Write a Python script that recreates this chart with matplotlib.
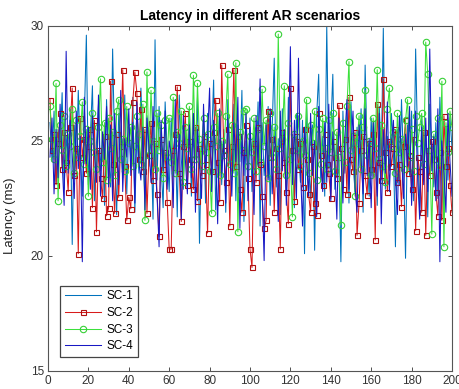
import numpy as np
import matplotlib
matplotlib.use('Agg')
import matplotlib.pyplot as plt

plt.rcParams['font.family'] = ['Liberation Sans', 'DejaVu Sans']

# data (x = 1..200)
x = np.arange(1, 201)

sc1 = [25.8, 24.1, 26.3, 23.2, 25.5, 24.7, 27.1, 22.9, 25.2, 24.0,
       26.4, 20.5, 25.7, 23.8, 27.2, 24.4, 22.6, 26.0, 29.6, 23.1,
       25.3, 27.4, 22.4, 24.9, 26.6, 23.7, 25.1, 22.2, 26.8, 24.3,
       23.0, 29.0, 24.6, 21.8, 26.2, 25.0, 23.4, 27.0, 22.7, 25.6,
       24.2, 26.9, 21.9, 25.4, 23.6, 27.3, 24.8, 22.5, 26.1, 23.9,
       25.2, 21.6, 29.4, 23.3, 26.5, 24.0, 22.1, 26.7, 24.5, 22.8,
       26.0, 23.5, 25.3, 21.7, 27.0, 24.2, 22.9, 25.8, 23.4, 26.4,
       22.6, 25.1, 24.3, 26.9, 20.55, 24.7, 25.9, 22.3, 26.2, 23.8,
       25.0, 27.65, 22.0, 24.6, 26.3, 23.1, 25.5, 21.9, 26.8, 24.2,
       23.3, 26.6, 22.4, 25.7, 24.1, 27.2, 21.5, 25.0, 23.7, 26.0,
       22.8, 25.4, 24.0, 26.7, 21.3, 25.8, 23.5, 24.8, 26.5, 22.2,
       25.6, 28.6, 23.0, 25.1, 21.8, 26.4, 24.2, 22.7, 26.9, 23.6,
       25.3, 22.1, 26.2, 24.5, 23.2, 25.9, 20.1, 26.6, 24.0, 22.5,
       25.7, 20.25, 26.1, 27.9, 23.3, 25.2, 22.6, 30.0, 23.8, 25.5,
       27.9, 22.9, 25.0, 24.2, 19.75, 26.3, 23.6, 25.8, 22.3, 26.7,
       24.1, 22.8, 25.6, 23.9, 26.4, 21.9, 28.3, 24.5, 22.6, 26.0,
       23.4, 25.9, 22.2, 26.5, 24.3, 29.9, 22.9, 25.2, 23.7, 26.2,
       24.6, 20.4, 25.5, 23.1, 26.8, 24.0, 19.9, 25.7, 23.5, 26.3,
       22.4, 29.0, 24.8, 22.0, 26.1, 23.6, 25.4, 21.7, 26.6, 24.2,
       23.0, 25.8, 22.5, 26.9, 24.4, 21.8, 25.6, 23.3, 26.0, 24.7]

sc2 = [26.8, 24.6, 25.3, 23.1, 24.9, 26.2, 23.8, 25.4, 24.1, 22.8,
       25.6, 27.3, 23.5, 24.7, 20.1, 26.0, 24.3, 25.1, 23.6, 24.8,
       25.5, 22.1, 25.9, 21.05, 24.6, 23.4, 22.5, 25.2, 21.75, 22.1,
       27.6, 24.0, 21.85, 25.3, 22.55, 24.8, 28.1, 23.9, 21.55, 22.55,
       22.05, 26.7, 28.0, 27.1, 24.2, 26.4, 23.7, 25.5, 21.85, 24.4,
       25.8, 23.3, 24.9, 22.7, 20.85, 25.1, 23.8, 24.5, 22.35, 20.3,
       20.3, 24.6, 25.3, 27.35, 23.6, 21.5, 24.8, 26.2, 23.1, 25.0,
       24.2, 22.9, 25.6, 22.4, 24.7, 23.5, 25.2, 24.0, 21.0, 24.9,
       23.7, 25.4, 26.8, 24.1, 22.35, 28.3, 24.6, 23.2, 25.5, 21.3,
       24.8, 28.1, 23.9, 25.2, 22.9, 21.9, 24.5, 25.7, 23.4, 20.3,
       19.5, 24.9, 23.2, 25.6, 24.0, 22.6, 21.2, 21.55, 26.3, 24.3,
       25.1, 21.9, 24.7, 23.5, 20.3, 25.4, 24.1, 22.8, 21.4, 27.3,
       24.6, 22.4, 25.2, 23.8, 24.9, 23.0, 25.5, 24.2, 22.7, 21.9,
       24.8, 22.3, 21.8, 26.2, 24.4, 23.1, 25.3, 24.0, 23.6, 22.5,
       25.0, 24.3, 23.4, 26.55, 24.7, 22.9, 25.1, 22.7, 26.9, 24.2,
       23.7, 25.4, 20.9, 22.3, 24.6, 25.2, 23.5, 22.65, 24.9, 23.8,
       25.3, 20.7, 26.6, 24.1, 23.3, 27.7, 24.5, 22.8, 25.0, 23.9,
       24.7, 25.5, 23.2, 24.0, 22.15, 24.8, 25.9, 23.6, 24.4, 22.9,
       25.1, 21.1, 24.3, 23.7, 21.9, 25.4, 20.9, 24.6, 23.5, 25.0,
       24.2, 22.8, 21.75, 24.5, 21.55, 26.1, 23.9, 24.7, 23.1, 21.9]

sc3 = [26.5, 25.1, 24.2, 27.5, 22.4, 25.7, 24.6, 26.1, 23.9, 25.3,
       24.8, 26.4, 23.6, 25.9, 24.3, 25.2, 26.7, 24.0, 25.5, 22.6,
       25.0, 26.2, 24.5, 23.8, 25.6, 27.7, 24.1, 25.8, 23.3, 26.0,
       24.7, 25.4, 23.5, 26.3, 26.8, 24.2, 25.1, 23.7, 26.5, 24.9,
       25.6, 23.9, 24.8, 26.1, 25.3, 24.0, 26.6, 21.55, 28.0, 24.4,
       27.2, 25.0, 23.8, 26.2, 24.6, 25.7, 23.4, 25.9, 24.3, 26.0,
       24.1, 26.9, 23.6, 25.4, 24.9, 26.3, 23.2, 25.6, 24.7, 26.5,
       23.8, 27.85, 24.2, 27.5, 25.1, 23.9, 26.0, 24.5, 25.3, 23.7,
       21.85, 25.6, 24.8, 26.2, 23.5, 25.0, 24.4, 26.1, 27.9, 24.0,
       25.7, 23.6, 28.4, 21.05, 25.4, 24.6, 26.3, 26.4, 23.9, 25.2,
       24.5, 26.0, 23.7, 25.5, 24.1, 27.25, 24.8, 25.9, 23.4, 26.2,
       24.3, 25.6, 23.8, 29.65, 24.7, 25.1, 27.4, 23.5, 25.8, 24.2,
       21.7, 25.3, 24.6, 26.1, 23.9, 25.0, 24.4, 26.8, 23.6, 25.7,
       24.9, 26.3, 23.3, 25.5, 24.0, 26.0, 24.7, 23.8, 25.9, 24.5,
       26.2, 23.7, 25.4, 24.3, 21.35, 25.8, 24.1, 26.5, 28.45, 24.6,
       25.2, 22.6, 24.9, 26.1, 23.8, 25.6, 27.2, 24.4, 25.0, 23.5,
       26.0, 24.7, 28.1, 24.2, 25.7, 23.9, 23.2, 26.4, 27.3, 24.8,
       25.4, 23.6, 26.2, 24.5, 25.1, 23.8, 25.9, 26.8, 24.3, 25.5,
       23.7, 26.1, 24.9, 25.6, 26.2, 24.0, 29.3, 27.9, 24.6, 20.95,
       25.3, 24.2, 26.0, 23.9, 27.6, 20.4, 25.8, 24.5, 26.3, 25.6]

sc4 = [24.3, 26.0, 22.7, 25.5, 23.4, 26.6, 24.1, 22.2, 28.9, 23.6,
       25.9, 24.4, 22.5, 26.3, 23.8, 25.2, 19.75, 26.9, 24.0, 25.6,
       22.9, 26.1, 24.5, 23.2, 27.0, 22.6, 25.4, 24.2, 26.5, 23.0,
       25.7, 22.4, 26.2, 24.6, 23.1, 27.2, 22.8, 25.1, 24.3, 26.4,
       23.5, 25.8, 22.3, 26.7, 24.1, 23.3, 25.6, 22.0, 26.0, 24.7,
       23.2, 26.5, 24.0, 22.6, 20.4, 25.9, 23.7, 26.3, 22.9, 25.0,
       24.4, 22.1, 26.8, 23.6, 25.3, 21.6, 26.1, 24.2, 22.7, 25.7,
       23.4, 26.2, 21.9, 25.5, 24.0, 22.5, 26.6, 23.8, 25.1, 27.3,
       22.8, 25.9, 24.4, 21.4, 26.4, 23.6, 25.0, 22.3, 26.0, 24.5,
       22.6, 25.8, 24.1, 26.9, 21.2, 25.3, 23.5, 26.2, 22.4, 25.6,
       24.2, 21.8, 26.1, 23.9, 27.7, 22.9, 19.8, 25.7, 23.3, 26.4,
       22.7, 25.2, 24.6, 21.5, 26.3, 23.7, 25.5, 22.2, 24.8, 29.1,
       23.1, 25.9, 22.5, 28.6, 23.8, 21.3, 25.6, 24.3, 22.6, 26.2,
       23.5, 25.0, 21.7, 26.5, 24.1, 22.8, 25.8, 23.2, 26.6, 22.4,
       25.4, 23.9, 21.6, 26.0, 24.5, 22.3, 25.2, 26.8, 22.9, 24.7,
       26.3, 23.0, 21.9, 25.7, 24.2, 22.7, 26.4, 23.5, 25.1, 22.1,
       25.8, 24.0, 22.6, 26.2, 21.4, 25.5, 23.6, 26.7, 22.8, 24.9,
       25.9, 23.3, 21.8, 26.1, 24.4, 22.5, 25.3, 23.9, 26.5, 22.2,
       24.7, 26.3, 23.4, 21.6, 25.6, 23.1, 26.0, 22.8, 29.0, 23.7,
       25.2, 22.4, 26.4, 19.75, 25.0, 23.6, 21.9, 26.2, 24.1, 22.6]

labels = ['SC-1', 'SC-2', 'SC-3', 'SC-4']

fig = plt.figure(figsize=(4.6, 3.89), dpi=100)
ax = fig.add_axes([0.1043, 0.0463, 0.8783, 0.8869])

ax.plot(x, sc1, color='#0072BD', lw=0.75, label=labels[0])
ax.plot(x, sc2, color='#D81C1C', lw=0.75, marker='s', ms=3.6, mfc='none',
        mec='#B01010', mew=0.8, label=labels[1])
ax.plot(x, sc3, color='#3CE03C', lw=0.75, marker='o', ms=4.6, mfc='none',
        mec='#38D038', mew=0.8, label=labels[2])
ax.plot(x, sc4, color='#1818C4', lw=0.75, label=labels[3])

ax.set_xlim(0, 200)
ax.set_ylim(15, 30)
ax.set_xticks(np.arange(0, 201, 20))
ax.set_yticks([15, 20, 25, 30])
ax.tick_params(direction='in', top=True, right=True, length=3, width=0.6,
               labelsize=8.5, colors='#333333', pad=3)
for s in ax.spines.values():
    s.set_color('#555555')
    s.set_linewidth(0.8)

ax.set_ylabel('Latency (ms)', fontsize=9.5, color='#222222')
ax.yaxis.set_label_coords(-0.078, 0.45)
ax.set_title('Latency in different AR scenarios', fontsize=10,
             fontweight='bold', pad=4)

leg = ax.legend(loc='lower left', bbox_to_anchor=(0.03, 0.04), borderaxespad=0,
                fontsize=8.5, handlelength=3.1, handletextpad=0.4,
                labelspacing=0.4, borderpad=0.4, fancybox=False,
                framealpha=1)
leg.get_frame().set_edgecolor('#444444')
leg.get_frame().set_linewidth(0.9)

fig.savefig('out.png', dpi=100)
